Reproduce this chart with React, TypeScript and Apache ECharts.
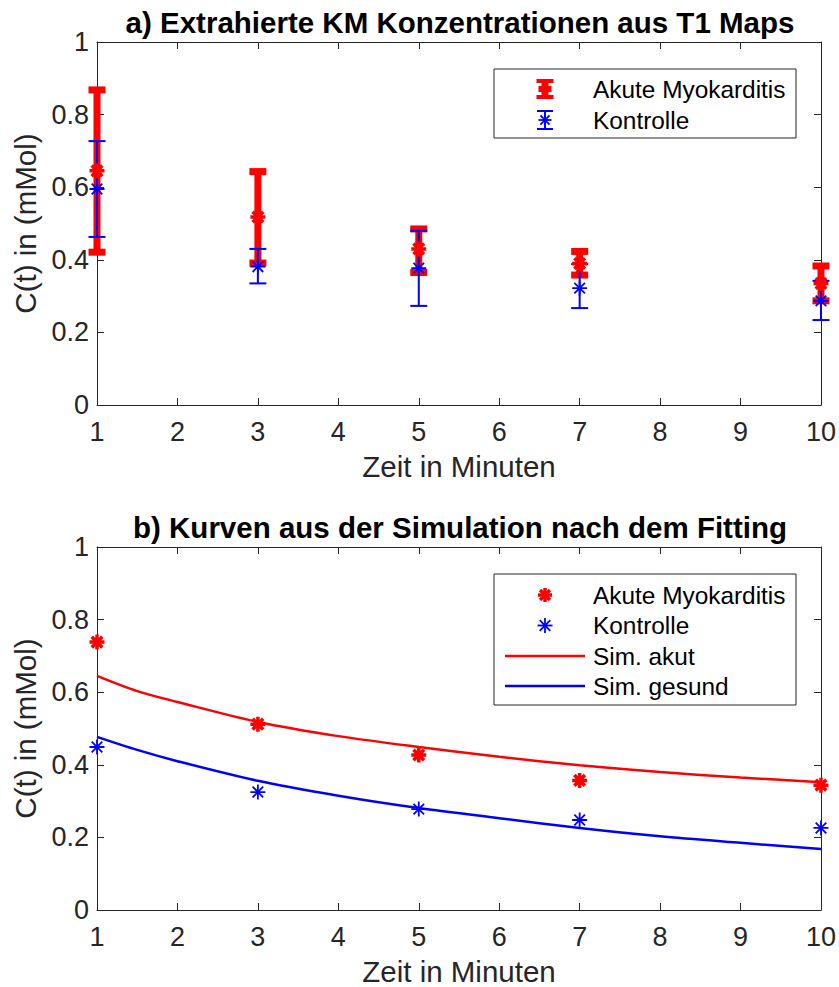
import React, { useEffect, useRef } from "react";
import * as echarts from "echarts";

// ---- data ----
const minutes = [1, 3, 5, 7, 10];
// a) extracted concentrations (mean, lower, upper)
const akutMean = [0.645, 0.518, 0.43, 0.39, 0.335];
const akutLow = [0.421, 0.391, 0.365, 0.358, 0.287];
const akutHigh = [0.868, 0.643, 0.485, 0.423, 0.383];
const kontrMean = [0.595, 0.381, 0.377, 0.322, 0.287];
const kontrLow = [0.463, 0.335, 0.273, 0.267, 0.234];
const kontrHigh = [0.727, 0.43, 0.48, 0.388, 0.342];
// b) fitted data points
const akutFitObs = [0.738, 0.512, 0.427, 0.357, 0.344];
const kontrFitObs = [0.449, 0.325, 0.278, 0.248, 0.226];
// b) simulation curves
const simTime = [1, 1.5, 2, 3, 4, 5, 6, 7, 8, 9, 10];
const simAkut = [0.645, 0.603, 0.573, 0.518, 0.479, 0.449, 0.422, 0.399, 0.38, 0.365, 0.352];
const simGesund = [0.477, 0.441, 0.41, 0.356, 0.315, 0.281, 0.253, 0.226, 0.203, 0.185, 0.168];

const titleA = "a) Extrahierte KM Konzentrationen aus T1 Maps";
const titleB = "b) Kurven aus der Simulation nach dem Fitting";
const xName = "Zeit in Minuten";
const yName = "C(t) in (mMol)";
const legendA = ["Akute Myokarditis", "Kontrolle"];
const legendB = ["Akute Myokarditis", "Kontrolle", "Sim. akut", "Sim. gesund"];

const FONT = "'Liberation Sans', Arial, Helvetica, sans-serif";
const AX = "#262626";
const RED = "#ff0000";
const BLUE = "#0000ff";
const STAR = "path://M0,-10V10M-10,0H10M-7.07,-7.07L7.07,7.07M-7.07,7.07L7.07,-7.07";

const zip = (xs: number[], ys: number[]) => xs.map((x, i) => [x, ys[i]]);

function errRender(color: string, lw: number, capHalf: number) {
  return (params: any, api: any) => {
    const x = api.value(0);
    const lo = api.coord([x, api.value(2)]);
    const hi = api.coord([x, api.value(3)]);
    const st = { stroke: color, lineWidth: lw, fill: "none" };
    return {
      type: "group",
      children: [
        { type: "line", shape: { x1: lo[0], y1: lo[1], x2: hi[0], y2: hi[1] }, style: st },
        { type: "line", shape: { x1: lo[0] - capHalf, y1: lo[1], x2: lo[0] + capHalf, y2: lo[1] }, style: st },
        { type: "line", shape: { x1: hi[0] - capHalf, y1: hi[1], x2: hi[0] + capHalf, y2: hi[1] }, style: st },
      ],
    };
  };
}

function xAxes(grid: number) {
  const common = {
    gridIndex: grid,
    type: "value",
    min: 1,
    max: 10,
    interval: 1,
    axisLine: { onZero: false, lineStyle: { color: AX, width: 1 } },
    axisTick: { inside: true, length: 7, lineStyle: { color: AX, width: 1 } },
    splitLine: { show: false },
  };
  return [
    {
      ...common,
      position: "bottom",
      name: xName,
      nameLocation: "middle",
      nameGap: 46,
      nameTextStyle: { fontSize: 29.5, color: AX, fontFamily: FONT },
      axisLabel: { fontSize: 27, color: AX, fontFamily: FONT, margin: 13 },
    },
    { ...common, position: "top", axisLabel: { show: false } },
  ];
}

function yAxes(grid: number) {
  const common = {
    gridIndex: grid,
    type: "value",
    min: 0,
    max: 1,
    interval: 0.2,
    axisLine: { onZero: false, lineStyle: { color: AX, width: 1 } },
    axisTick: { inside: true, length: 7, lineStyle: { color: AX, width: 1 } },
    splitLine: { show: false },
  };
  return [
    {
      ...common,
      position: "left",
      name: yName,
      nameLocation: "middle",
      nameGap: 52,
      nameTextStyle: { fontSize: 29.5, color: AX, fontFamily: FONT },
      axisLabel: {
        fontSize: 27,
        color: AX,
        fontFamily: FONT,
        margin: 8,
        formatter: (v: number) => (v === 0 ? "0" : v === 1 ? "1" : v.toFixed(1)),
      },
    },
    { ...common, position: "right", axisLabel: { show: false } },
  ];
}

// ---- legend drawing helpers (graphic) ----
function starLines(cx: number, cy: number, r: number, color: string, lw: number) {
  const d = r * 0.7071;
  const st = { stroke: color, lineWidth: lw };
  return [
    { type: "line", shape: { x1: cx, y1: cy - r, x2: cx, y2: cy + r }, style: st },
    { type: "line", shape: { x1: cx - r, y1: cy, x2: cx + r, y2: cy }, style: st },
    { type: "line", shape: { x1: cx - d, y1: cy - d, x2: cx + d, y2: cy + d }, style: st },
    { type: "line", shape: { x1: cx - d, y1: cy + d, x2: cx + d, y2: cy - d }, style: st },
  ];
}

function legendText(text: string, x: number, y: number) {
  return {
    type: "text",
    style: { text, x, y, fill: "#000", fontSize: 24.4, fontFamily: FONT, verticalAlign: "middle", align: "left" },
  };
}

function legendBox(x: number, y: number, w: number, h: number) {
  return {
    type: "rect",
    shape: { x, y, width: w, height: h },
    style: { fill: "#ffffff", stroke: AX, lineWidth: 1 },
  };
}

function buildGraphic() {
  const iconX = 545;
  const textX = 593;
  // legend a
  const ya = [89, 120];
  const redEB = {
    type: "polygon",
    shape: {
      points: [
        [-8.5, -10], [8.5, -10], [8.5, -6], [3.5, -6], [3.5, -3], [6.5, -3], [6.5, 3], [3.5, 3], [3.5, 6],
        [8.5, 6], [8.5, 10], [-8.5, 10], [-8.5, 6], [-3.5, 6], [-3.5, 3], [-6.5, 3], [-6.5, -3], [-3.5, -3],
        [-3.5, -6], [-8.5, -6],
      ].map((p) => [p[0] + iconX, p[1] + ya[0]]),
    },
    style: { fill: RED },
  };
  const bst = { stroke: BLUE, lineWidth: 2 };
  const blueEB = [
    { type: "line", shape: { x1: iconX - 8, y1: ya[1] - 9, x2: iconX + 8, y2: ya[1] - 9 }, style: bst },
    { type: "line", shape: { x1: iconX, y1: ya[1] - 9, x2: iconX, y2: ya[1] + 9 }, style: bst },
    { type: "line", shape: { x1: iconX - 8, y1: ya[1] + 9, x2: iconX + 8, y2: ya[1] + 9 }, style: bst },
    ...starLines(iconX, ya[1], 6.5, BLUE, 1.8),
  ];
  const groupA = {
    type: "group",
    z: 100,
    children: [
      legendBox(494, 69, 302, 69),
      redEB,
      ...blueEB,
      legendText(legendA[0], textX, ya[0]),
      legendText(legendA[1], textX, ya[1]),
    ],
  };
  // legend b
  const yb = [595, 625.5, 656, 686];
  const groupB = {
    type: "group",
    z: 100,
    children: [
      legendBox(494, 574, 302, 131),
      ...starLines(iconX, yb[0], 7, RED, 3.5),
      ...starLines(iconX, yb[1], 7.5, BLUE, 1.8),
      { type: "line", shape: { x1: 505, y1: yb[2], x2: 585, y2: yb[2] }, style: { stroke: RED, lineWidth: 2.5 } },
      { type: "line", shape: { x1: 505, y1: yb[3], x2: 585, y2: yb[3] }, style: { stroke: BLUE, lineWidth: 2.5 } },
      ...legendB.map((t, i) => legendText(t, textX, yb[i])),
    ],
  };
  return [groupA, groupB];
}

export default function App() {
  const ref = useRef<HTMLDivElement>(null);
  useEffect(() => {
    if (!ref.current) return;
    const chart = echarts.init(ref.current, undefined, { renderer: "svg" });
    const redStar = { color: "none", borderColor: RED, borderWidth: 3.5, opacity: 1 };
    const blueStar = { color: "none", borderColor: BLUE, borderWidth: 1.8, opacity: 1 };
    const option: any = {
      animation: false,
      backgroundColor: "#ffffff",
      title: [
        {
          text: titleA,
          left: 460,
          top: 7,
          padding: 0,
          textAlign: "center",
          textStyle: { fontSize: 29.5, fontWeight: "bold", color: "#000", fontFamily: FONT },
        },
        {
          text: titleB,
          left: 460,
          top: 512,
          padding: 0,
          textAlign: "center",
          textStyle: { fontSize: 29.5, fontWeight: "bold", color: "#000", fontFamily: FONT },
        },
      ],
      grid: [
        { left: 97, right: 16, top: 42, height: 363 },
        { left: 97, right: 16, top: 547, height: 363 },
      ],
      xAxis: [...xAxes(0), ...xAxes(1)],
      yAxis: [...yAxes(0), ...yAxes(1)],
      graphic: buildGraphic(),
      series: [
        {
          type: "custom",
          name: "Akute Myokarditis",
          xAxisIndex: 0,
          yAxisIndex: 0,
          clip: false,
          renderItem: errRender(RED, 7, 8.5),
          encode: { x: 0, y: 1 },
          itemStyle: { color: RED },
          data: minutes.map((m, i) => [m, akutMean[i], akutLow[i], akutHigh[i]]),
        },
        {
          type: "scatter",
          name: "Akute Myokarditis",
          xAxisIndex: 0,
          yAxisIndex: 0,
          symbol: STAR,
          symbolSize: 15,
          itemStyle: redStar,
          data: zip(minutes, akutMean),
        },
        {
          type: "custom",
          name: "Kontrolle",
          xAxisIndex: 0,
          yAxisIndex: 0,
          clip: false,
          renderItem: errRender(BLUE, 2, 8.5),
          encode: { x: 0, y: 1 },
          itemStyle: { color: BLUE },
          data: minutes.map((m, i) => [m, kontrMean[i], kontrLow[i], kontrHigh[i]]),
        },
        {
          type: "scatter",
          name: "Kontrolle",
          xAxisIndex: 0,
          yAxisIndex: 0,
          symbol: STAR,
          symbolSize: 15,
          itemStyle: blueStar,
          data: zip(minutes, kontrMean),
        },
        {
          type: "line",
          name: "Sim. akut",
          xAxisIndex: 2,
          yAxisIndex: 2,
          showSymbol: false,
          symbol: "none",
          smooth: 0.3,
          lineStyle: { color: RED, width: 2.5 },
          itemStyle: { color: RED },
          data: zip(simTime, simAkut),
        },
        {
          type: "line",
          name: "Sim. gesund",
          xAxisIndex: 2,
          yAxisIndex: 2,
          showSymbol: false,
          symbol: "none",
          smooth: 0.3,
          lineStyle: { color: BLUE, width: 2.5 },
          itemStyle: { color: BLUE },
          data: zip(simTime, simGesund),
        },
        {
          type: "scatter",
          name: "Akute Myokarditis",
          xAxisIndex: 2,
          yAxisIndex: 2,
          symbol: STAR,
          symbolSize: 15,
          itemStyle: redStar,
          data: zip(minutes, akutFitObs),
        },
        {
          type: "scatter",
          name: "Kontrolle",
          xAxisIndex: 2,
          yAxisIndex: 2,
          symbol: STAR,
          symbolSize: 15,
          itemStyle: blueStar,
          data: zip(minutes, kontrFitObs),
        },
      ],
    };
    chart.setOption(option);
    return () => chart.dispose();
  }, []);
  return (
    <div
      ref={ref}
      style={{ position: "fixed", left: 0, top: 0, width: 839, height: 987 }}
    />
  );
}
